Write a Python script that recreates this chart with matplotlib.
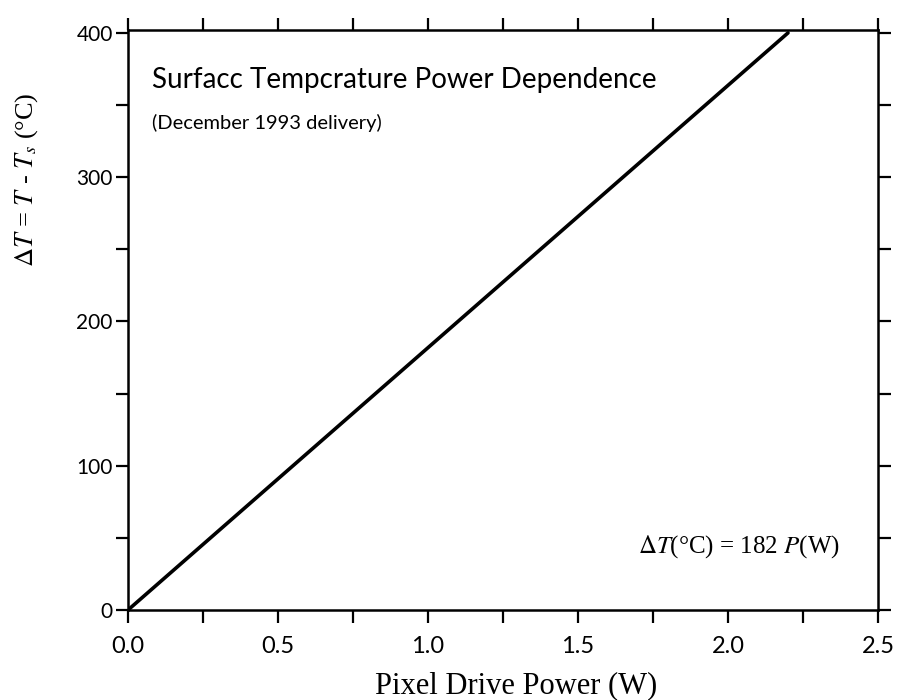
import matplotlib
matplotlib.use("Agg")
import matplotlib.pyplot as plt
from matplotlib.ticker import MultipleLocator

# Data
power_w = [0.0, 2.2]
delta_t = [0.0, 400.0]
x_ticks = [0.0, 0.5, 1.0, 1.5, 2.0, 2.5]
x_tick_labels = ["0.0", "0.5", "1.0", "1.5", "2.0", "2.5"]
y_ticks = [0, 100, 200, 300, 400]
y_tick_labels = ["0", "100", "200", "300", "400"]

W, H = 897, 700
fig = plt.figure(figsize=(W / 100, H / 100), dpi=100)
ax = fig.add_axes([128 / W, 1 - 610 / H, 750 / W, 580 / H])

ax.plot(power_w, delta_t, color="black", lw=2.6, solid_capstyle="round")
ax.set_xlim(0, 2.5)
ax.set_ylim(0, 402)

ax.set_xticks(x_ticks)
ax.set_xticklabels(x_tick_labels, family="Lato", fontsize=17)
ax.set_yticks(y_ticks)
ax.set_yticklabels(y_tick_labels, family="Lato", fontsize=15)
ax.xaxis.set_minor_locator(MultipleLocator(0.25))
ax.yaxis.set_minor_locator(MultipleLocator(50))
ax.tick_params(which="both", direction="out", top=True, right=True,
               length=9, width=1.6, color="black")
ax.tick_params(axis="x", pad=10)
ax.tick_params(axis="y", pad=2)
for s in ax.spines.values():
    s.set_linewidth(1.8)

fig.text(152 / W, 1 - 80 / H, "Surfacc Tempcrature Power Dependence",
         family="Lato", fontsize=20, va="center", ha="left")
fig.text(152 / W, 1 - 123 / H, "(December 1993 delivery)",
         family="Lato", fontsize=14.5, va="center", ha="left")
fig.text(840 / W, 1 - 547 / H, r"$\Delta T$(°C) = 182 $P$(W)",
         family="Liberation Serif", fontsize=18, va="center", ha="right",
         math_fontfamily="stix")
fig.text(27 / W, 1 - 180 / H, r"$\Delta T$ = $T$ - $T_s$ (°C)",
         family="Liberation Serif", fontsize=19, va="center", ha="center",
         rotation=90, math_fontfamily="stix")
fig.text(516 / W, 1 - 686 / H, "Pixel Drive Power (W)",
         family="Liberation Serif", fontsize=22, va="center", ha="center")

fig.savefig("out.png", dpi=100)
